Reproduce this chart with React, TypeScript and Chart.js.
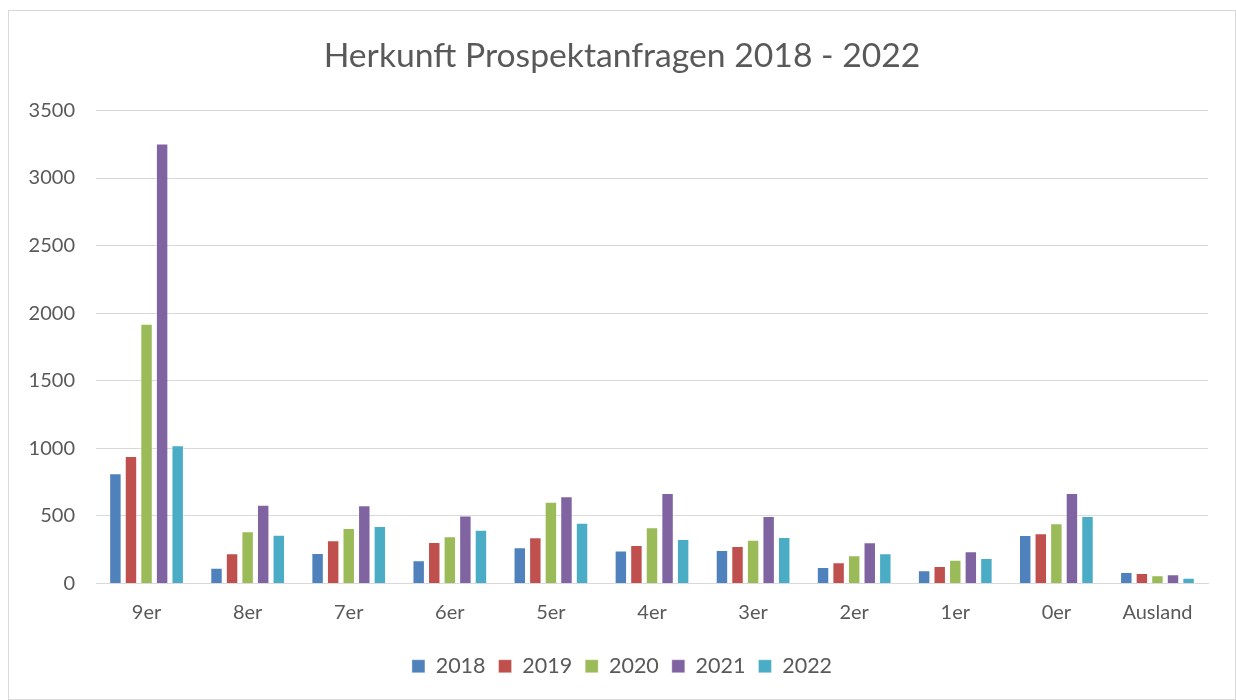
import React, { useEffect, useRef } from "react";
import { Chart, registerables } from "chart.js";

Chart.register(...registerables);

const categories = ["9er", "8er", "7er", "6er", "5er", "4er", "3er", "2er", "1er", "0er", "Ausland"];
const years = ["2018", "2019", "2020", "2021", "2022"];
const values2018 = [815, 117, 226, 172, 268, 245, 248, 122, 98, 359, 85];
const values2019 = [943, 223, 320, 307, 342, 285, 278, 157, 130, 371, 78];
const values2020 = [1922, 386, 411, 349, 605, 416, 324, 209, 176, 445, 61];
const values2021 = [3255, 583, 579, 504, 645, 670, 500, 305, 238, 670, 68];
const values2022 = [1023, 361, 426, 398, 450, 329, 344, 223, 189, 500, 43];
const colors = ["#4F81BD", "#C0504D", "#9BBB59", "#8064A2", "#4BACC6"];
const yTicks = [0, 500, 1000, 1500, 2000, 2500, 3000, 3500];

const FONT = "Lato, 'Open Sans', sans-serif";
const TEXT = "#595959";

const centerBlocks = {
  id: "centerBlocks",
  afterLayout(chart: any) {
    if (chart.titleBlock) {
      chart.titleBlock.left = 0;
      chart.titleBlock.right = chart.width;
    }
    if (chart.legend) {
      chart.legend.left = 0;
      chart.legend.right = chart.width;
    }
  },
};

export default function App() {
  const ref = useRef<HTMLCanvasElement | null>(null);
  useEffect(() => {
    if (!ref.current) return;
    const series = [values2018, values2019, values2020, values2021, values2022];
    const chart = new Chart(ref.current, {
      type: "bar",
      data: {
        labels: categories,
        datasets: series.map((d, i) => ({
          label: years[i],
          data: d,
          backgroundColor: colors[i],
          borderColor: "rgba(255,255,255,0.35)",
          borderWidth: 1,
          categoryPercentage: 0.77,
          barPercentage: 0.8,
        })),
      },
      plugins: [centerBlocks],
      options: {
        animation: false,
        responsive: false,
        maintainAspectRatio: false,
        layout: { padding: { top: 0, right: 27, bottom: 12, left: 0 } },
        plugins: {
          title: {
            display: true,
            text: "Herkunft Prospektanfragen 2018 - 2022",
            color: TEXT,
            font: { family: FONT, size: 33.7, weight: "normal" },
            padding: { top: 25, bottom: 34 },
          },
          legend: {
            position: "bottom",
            labels: {
              color: TEXT,
              font: { family: FONT, size: 21.5 },
              boxWidth: 13,
              boxHeight: 13,
              padding: 13,
            },
          },
          tooltip: { enabled: false },
        },
        scales: {
          x: {
            grid: { display: false, drawTicks: false },
            border: { display: true, color: "#d9d9d9", width: 1 },
            ticks: { color: TEXT, font: { family: FONT, size: 20 }, padding: 17 },
            afterFit: (s: any) => {
              s.height = 59;
            },
          },
          y: {
            min: 0,
            max: 3500,
            afterBuildTicks: (s: any) => {
              s.ticks = yTicks.map((v) => ({ value: v }));
            },
            grid: { color: "#d9d9d9", lineWidth: 1, drawTicks: false },
            border: { display: false },
            ticks: {
              color: TEXT,
              font: { family: FONT, size: 20 },
              padding: 21,
              callback: (v: any) => String(v),
            },
            afterFit: (s: any) => {
              s.width = 87;
            },
          },
        },
      },
    });
    return () => chart.destroy();
  }, []);
  return (
    <div
      style={{
        position: "absolute",
        left: 8,
        top: 10,
        width: 1228,
        height: 690,
        border: "1px solid #d9d9d9",
        boxSizing: "border-box",
        background: "#fff",
      }}
    >
      <canvas ref={ref} width={1226} height={688} style={{ display: "block" }} />
    </div>
  );
}
